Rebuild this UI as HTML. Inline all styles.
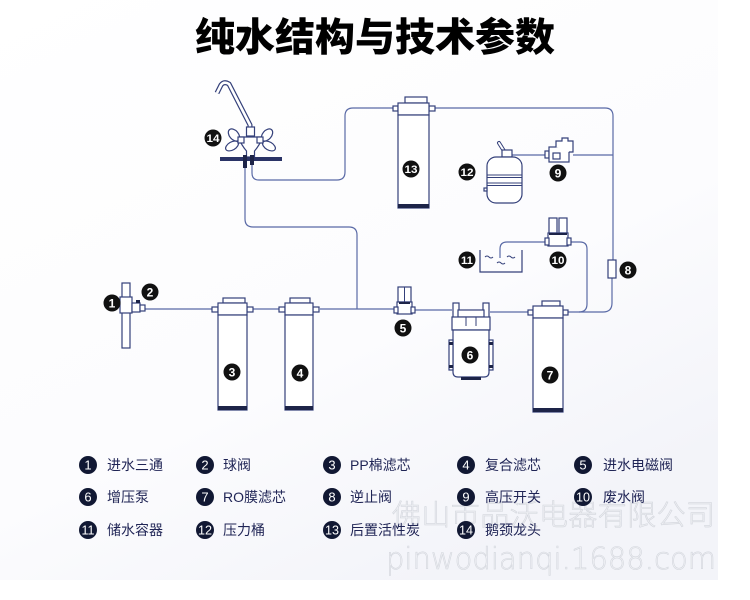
<!DOCTYPE html>
<html>
<head>
<meta charset="utf-8">
<style>
html,body{margin:0;padding:0;background:#fff;}
svg{display:block;}
.ln{fill:none;stroke:#5a6aa6;stroke-width:1.2;}
.o{fill:#fff;stroke:#34407a;stroke-width:1.2;}
.dk{fill:#1d2448;}
.bt{font-family:"Liberation Sans","DejaVu Sans",sans-serif;font-weight:bold;fill:#fff;text-anchor:middle;}
.lg{font-family:"Liberation Sans","Noto Sans CJK SC",sans-serif;font-size:14px;fill:#1f2455;}
.ln2{font-family:"Liberation Sans",sans-serif;font-size:13px;fill:#fff;text-anchor:middle;}
</style>
</head>
<body>
<svg width="750" height="600" viewBox="0 0 750 600" xmlns="http://www.w3.org/2000/svg">
<defs>
<linearGradient id="bg" x1="0" y1="0" x2="0.6" y2="1">
<stop offset="0" stop-color="#ffffff"/>
<stop offset="0.65" stop-color="#fcfcfe"/>
<stop offset="1" stop-color="#f3f4f9"/>
</linearGradient>
</defs>
<rect x="0" y="0" width="750" height="600" fill="#fff"/>
<rect x="0" y="0" width="718" height="580" fill="url(#bg)"/>

<!-- Title -->
<text x="375" y="51" text-anchor="middle" font-family="'Noto Sans CJK SC','WenQuanYi Zen Hei',sans-serif" font-weight="900" font-size="39" fill="#000" textLength="360" lengthAdjust="spacingAndGlyphs">纯水结构与技术参数</text>

<!-- Pipes -->
<path class="ln" d="M145,309 H212"/>
<path class="ln" d="M253,309 H279"/>
<path class="ln" d="M320,309 H396"/>
<path class="ln" d="M413,310 H452"/>
<path class="ln" d="M490,312 H528"/>
<path class="ln" d="M357,309 V235 Q357,227 349,227 H253 Q245,227 245,219 V163"/>
<path class="ln" d="M252,163 V173 Q252,180 259,180 H337 Q345,180 345,172 V116 Q345,108 353,108 H393"/>
<path class="ln" d="M435,108 H605 Q613,108 613,116 V260"/>
<path class="ln" d="M612,278 V303 Q612,312 603,312 H568"/>
<path class="ln" d="M512,155 H547"/>
<path class="ln" d="M573,155 H613"/>
<path class="ln" d="M568,242 H580 Q587,242 587,249 V304 Q587,312 579,312"/>
<path class="ln" d="M548,242 H507 Q500,242 500,249 V258"/>

<!-- Filter 3 -->
<rect class="o" x="212" y="307" width="6" height="5"/>
<rect class="o" x="247" y="307" width="6" height="5"/>
<rect class="o" x="223" y="298" width="22" height="5"/>
<rect class="o" x="218" y="303" width="29" height="12"/>
<rect class="o" x="218" y="315" width="29" height="95"/>
<rect class="dk" x="218" y="406" width="29" height="4"/>
<!-- Filter 4 -->
<rect class="o" x="279" y="307" width="6" height="5"/>
<rect class="o" x="313" y="307" width="6" height="5"/>
<rect class="o" x="290" y="298" width="20" height="5"/>
<rect class="o" x="285" y="303" width="28" height="12"/>
<rect class="o" x="285" y="315" width="28" height="95"/>
<rect class="dk" x="285" y="406" width="28" height="4"/>
<!-- Filter 7 -->
<rect class="o" x="528" y="310" width="5" height="5"/>
<rect class="o" x="563" y="310" width="5" height="5"/>
<rect class="o" x="542" y="301" width="18" height="5"/>
<rect class="o" x="533" y="306" width="30" height="12"/>
<rect class="o" x="533" y="318" width="30" height="94"/>
<rect class="dk" x="533" y="408" width="30" height="4"/>
<!-- Filter 13 -->
<rect class="o" x="393" y="106" width="5" height="5"/>
<rect class="o" x="429" y="106" width="6" height="5"/>
<rect class="o" x="405" y="97" width="22" height="6"/>
<rect class="o" x="398" y="103" width="31" height="12"/>
<rect class="o" x="398" y="115" width="31" height="93"/>
<rect class="dk" x="398" y="204" width="31" height="4"/>

<!-- Tee 1 + ball valve 2 -->
<rect class="o" x="122" y="283" width="8" height="65"/>
<rect class="o" x="120" y="297" width="12" height="16"/>
<rect class="o" x="132" y="303" width="8" height="9"/>
<rect class="o" x="140" y="305" width="5" height="6"/>
<rect class="dk" x="136" y="300" width="4" height="3"/>

<!-- Solenoid 5 -->
<rect class="o" x="398" y="287" width="13" height="15"/>
<line x1="404.5" y1="287" x2="404.5" y2="302" stroke="#34407a" stroke-width="1"/>
<rect class="o" x="397" y="302" width="15" height="12"/>
<rect class="o" x="394" y="307" width="4" height="6"/>
<rect class="o" x="411" y="307" width="4" height="6"/>
<rect class="dk" x="399" y="302" width="11" height="2"/>

<!-- Pump 6 -->
<rect class="o" x="453" y="303" width="6" height="15"/>
<rect class="o" x="483" y="303" width="6" height="15"/>
<rect class="o" x="458" y="310" width="26" height="7"/>
<rect class="o" x="452" y="317" width="38" height="13"/>
<line x1="466" y1="317" x2="466" y2="326" stroke="#34407a" stroke-width="1"/>
<line x1="476" y1="317" x2="476" y2="326" stroke="#34407a" stroke-width="1"/>
<path class="o" d="M453,330 H489 V372 Q489,377 484,377 H458 Q453,377 453,372 Z"/>
<rect class="o" x="449" y="340" width="4" height="30"/>
<rect class="o" x="489" y="340" width="4" height="30"/>
<rect class="dk" x="449" y="342" width="4" height="3"/>
<rect class="dk" x="489" y="342" width="4" height="3"/>
<rect class="dk" x="449" y="365" width="4" height="3"/>
<rect class="dk" x="489" y="365" width="4" height="3"/>
<rect class="dk" x="461" y="377" width="20" height="3"/>

<!-- Check valve 8 -->
<rect class="o" x="608" y="260" width="8" height="18"/>

<!-- Tank 12 -->
<path d="M504,151 L499,143" stroke="#34407a" stroke-width="4" fill="none" stroke-linecap="round"/>
<path d="M504,151 L499,143" stroke="#fff" stroke-width="2" fill="none" stroke-linecap="round"/>
<rect class="o" x="502" y="150" width="10" height="7"/>
<rect class="o" x="487" y="157" width="35" height="46" rx="9" ry="9"/>
<line x1="487" y1="175" x2="522" y2="175" stroke="#34407a" stroke-width="1"/>
<line x1="487" y1="177.5" x2="522" y2="177.5" stroke="#34407a" stroke-width="1"/>
<line x1="487" y1="183" x2="522" y2="183" stroke="#34407a" stroke-width="1"/>
<line x1="487" y1="185.5" x2="522" y2="185.5" stroke="#34407a" stroke-width="1"/>
<rect class="o" x="484" y="188" width="3" height="3"/>

<!-- Pressure switch 9 -->
<rect class="o" x="545" y="151" width="4" height="7"/>
<rect class="o" x="549" y="147" width="20" height="15"/>
<path class="o" d="M556,147 V141 H562 V138 H568 V141 H573 V152 H569"/>
<rect class="o" x="553" y="153" width="7" height="6"/>

<!-- Waste valve 10 -->
<rect class="o" x="549" y="218" width="8" height="15"/>
<rect class="o" x="559" y="218" width="8" height="15"/>
<rect class="o" x="548" y="233" width="20" height="13"/>
<rect class="o" x="545" y="238" width="4" height="7"/>
<rect class="o" x="567" y="238" width="4" height="7"/>
<rect class="dk" x="549" y="233" width="18" height="2"/>

<!-- Container 11 -->
<path d="M480,250 V272 H522 V250" fill="none" stroke="#34407a" stroke-width="1.2"/>
<path d="M485,257 q2,-2 4,0 t4,0" fill="none" stroke="#34407a" stroke-width="1"/>
<path d="M497,263 q2,-2 4,0 t4,0" fill="none" stroke="#34407a" stroke-width="1"/>
<path d="M507,257 q2,-2 4,0 t4,0" fill="none" stroke="#34407a" stroke-width="1"/>

<!-- Faucet 14 -->
<path d="M217,93 L221,85 Q224,81 229,84 L250,125 L250,131" fill="none" stroke="#34407a" stroke-width="5" stroke-linejoin="round"/>
<path d="M217,93 L221,85 Q224,81 229,84 L250,125 L250,131" fill="none" stroke="#fff" stroke-width="2.6"/>
<rect class="o" x="246.5" y="127" width="8" height="9"/>
<path class="o" d="M238,137 H263 Q259,146 254.5,151 V157 H246.5 V151 Q242,146 238,137 Z"/>
<ellipse class="o" cx="234" cy="135" rx="4.5" ry="7" transform="rotate(-40 234 135)"/>
<ellipse class="o" cx="232" cy="146" rx="4" ry="7" transform="rotate(60 232 146)"/>
<ellipse class="o" cx="267" cy="135" rx="4.5" ry="7" transform="rotate(40 267 135)"/>
<ellipse class="o" cx="269" cy="146" rx="4" ry="7" transform="rotate(-60 269 146)"/>
<rect class="o" x="238" y="137" width="6" height="6"/>
<rect class="o" x="257" y="137" width="6" height="6"/>
<rect x="220" y="157" width="62" height="4" fill="#2a3366"/>
<rect class="dk" x="243" y="155" width="4" height="13"/>
<rect class="dk" x="250" y="155" width="4" height="10"/>

<!-- Diagram badges -->
<g>
<circle cx="112" cy="303" r="8.5" fill="#111"/><text class="bt" x="112" y="307.5" font-size="12">1</text>
<circle cx="150" cy="292" r="8.5" fill="#111"/><text class="bt" x="150" y="296.5" font-size="12">2</text>
<circle cx="232" cy="372" r="8.5" fill="#111"/><text class="bt" x="232" y="376.5" font-size="12">3</text>
<circle cx="300" cy="373" r="8.5" fill="#111"/><text class="bt" x="300" y="377.5" font-size="12">4</text>
<circle cx="403" cy="328" r="8.5" fill="#111"/><text class="bt" x="403" y="332.5" font-size="12">5</text>
<circle cx="470" cy="355" r="8.5" fill="#111"/><text class="bt" x="470" y="359.5" font-size="12">6</text>
<circle cx="550" cy="375" r="8.5" fill="#111"/><text class="bt" x="550" y="379.5" font-size="12">7</text>
<circle cx="628" cy="270" r="8.5" fill="#111"/><text class="bt" x="628" y="274.5" font-size="12">8</text>
<circle cx="558" cy="173" r="8.5" fill="#111"/><text class="bt" x="558" y="177.5" font-size="12">9</text>
<circle cx="558" cy="260" r="8.5" fill="#111"/><text class="bt" x="558" y="264" font-size="11" textLength="13" lengthAdjust="spacingAndGlyphs">10</text>
<circle cx="467" cy="260" r="8.5" fill="#111"/><text class="bt" x="467" y="264" font-size="11" textLength="12" lengthAdjust="spacingAndGlyphs">11</text>
<circle cx="467" cy="172" r="8.5" fill="#111"/><text class="bt" x="467" y="176" font-size="11" textLength="13" lengthAdjust="spacingAndGlyphs">12</text>
<circle cx="411" cy="169" r="8.5" fill="#111"/><text class="bt" x="411" y="173" font-size="11" textLength="13" lengthAdjust="spacingAndGlyphs">13</text>
<circle cx="213" cy="138" r="8.5" fill="#111"/><text class="bt" x="213" y="142" font-size="11" textLength="13" lengthAdjust="spacingAndGlyphs">14</text>
</g>

<!-- Watermark -->
<text x="392" y="525" font-family="'Noto Sans CJK SC','WenQuanYi Zen Hei',sans-serif" font-size="29" font-weight="300" fill="#eeeff3" stroke="#d3d6dd" stroke-width="0.6" textLength="323" lengthAdjust="spacing">佛山市品沃电器有限公司</text>
<text x="386" y="569" font-family="'DejaVu Sans','Liberation Sans',sans-serif" font-size="30" font-weight="200" fill="#f0f1f5" stroke="#d3d6dd" stroke-width="0.6" textLength="330" lengthAdjust="spacingAndGlyphs">pinwodianqi.1688.com</text>

<!-- Legend -->
<g>
<circle cx="88" cy="465" r="9" fill="#111833"/><text class="ln2" x="88" y="469.5">1</text><text class="lg" x="107" y="470">进水三通</text>
<circle cx="205" cy="465" r="9" fill="#111833"/><text class="ln2" x="205" y="469.5">2</text><text class="lg" x="223" y="470">球阀</text>
<circle cx="332" cy="465" r="9" fill="#111833"/><text class="ln2" x="332" y="469.5">3</text><text class="lg" x="350" y="470">PP棉滤芯</text>
<circle cx="466" cy="465" r="9" fill="#111833"/><text class="ln2" x="466" y="469.5">4</text><text class="lg" x="485" y="470">复合滤芯</text>
<circle cx="583" cy="465" r="9" fill="#111833"/><text class="ln2" x="583" y="469.5">5</text><text class="lg" x="603" y="470">进水电磁阀</text>

<circle cx="88" cy="497" r="9" fill="#111833"/><text class="ln2" x="88" y="501.5">6</text><text class="lg" x="107" y="502">增压泵</text>
<circle cx="205" cy="497" r="9" fill="#111833"/><text class="ln2" x="205" y="501.5">7</text><text class="lg" x="223" y="502">RO膜滤芯</text>
<circle cx="332" cy="497" r="9" fill="#111833"/><text class="ln2" x="332" y="501.5">8</text><text class="lg" x="350" y="502">逆止阀</text>
<circle cx="466" cy="497" r="9" fill="#111833"/><text class="ln2" x="466" y="501.5">9</text><text class="lg" x="485" y="502">高压开关</text>
<circle cx="583" cy="497" r="9" fill="#111833"/><text class="ln2" x="583" y="501.5" font-size="12" textLength="14" lengthAdjust="spacingAndGlyphs">10</text><text class="lg" x="603" y="502">废水阀</text>

<circle cx="88" cy="530" r="9" fill="#111833"/><text class="ln2" x="88" y="534.5" font-size="12" textLength="13" lengthAdjust="spacingAndGlyphs">11</text><text class="lg" x="107" y="535">储水容器</text>
<circle cx="205" cy="530" r="9" fill="#111833"/><text class="ln2" x="205" y="534.5" font-size="12" textLength="14" lengthAdjust="spacingAndGlyphs">12</text><text class="lg" x="223" y="535">压力桶</text>
<circle cx="332" cy="530" r="9" fill="#111833"/><text class="ln2" x="332" y="534.5" font-size="12" textLength="14" lengthAdjust="spacingAndGlyphs">13</text><text class="lg" x="350" y="535">后置活性炭</text>
<circle cx="466" cy="530" r="9" fill="#111833"/><text class="ln2" x="466" y="534.5" font-size="12" textLength="14" lengthAdjust="spacingAndGlyphs">14</text><text class="lg" x="485" y="535">鹅颈龙头</text>
</g>
</svg>
</body>
</html>
